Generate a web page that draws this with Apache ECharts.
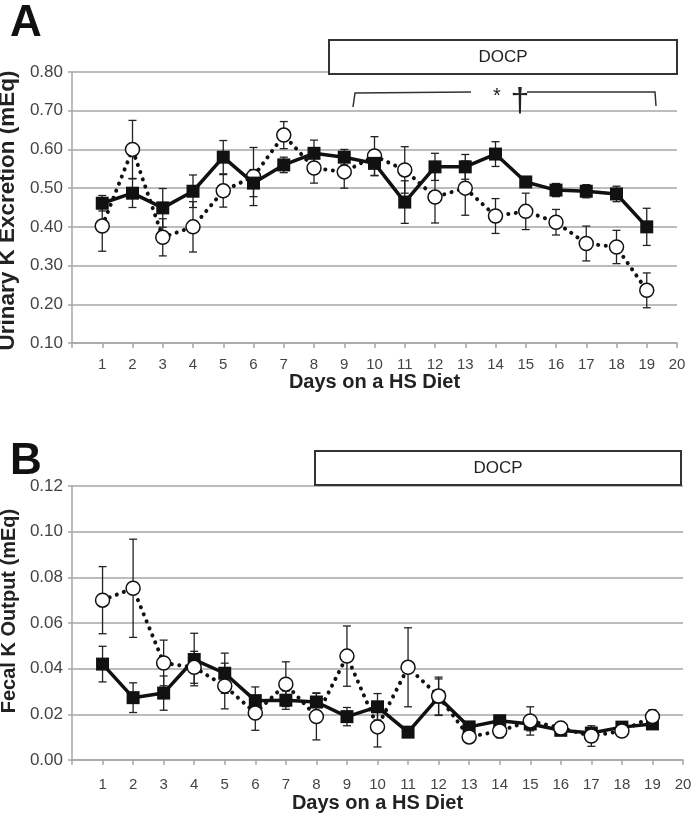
<!DOCTYPE html>
<html>
<head>
<meta charset="utf-8">
<script src="https://cdn.jsdelivr.net/npm/echarts@6/dist/echarts.min.js"></script>
<style>
html,body{margin:0;padding:0;background:#fff;}
#chart{width:692px;height:825px;}
</style>
</head>
<body>
<div id="chart"></div>
<script>
// ---- Data ----
var days = [1,2,3,4,5,6,7,8,9,10,11,12,13,14,15,16,17,18,19];
var xTickLabels = ['1','2','3','4','5','6','7','8','9','10','11','12','13','14','15','16','17','18','19','20'];

// Panel A: urinary K excretion (mEq)
var urinarySquare = [0.461,0.487,0.449,0.492,0.580,0.513,0.560,0.590,0.580,0.564,0.464,0.555,0.555,0.588,0.516,0.495,0.492,0.485,0.400];
var urinarySquareErr = [0.020,0.037,0.050,0.042,0.043,0.035,0.020,0.034,0.020,0.032,0.055,0.035,0.032,0.032,0.012,0.017,0.017,0.020,0.048];
var urinaryCircle = [0.402,0.600,0.373,0.400,0.493,0.530,0.637,0.552,0.542,0.583,0.547,0.477,0.500,0.428,0.440,0.412,0.357,0.348,0.236];
var urinaryCircleErr = [0.065,0.075,0.048,0.065,0.042,0.075,0.035,0.039,0.042,0.050,0.060,0.067,0.070,0.045,0.047,0.033,0.045,0.043,0.045];

// Panel B: fecal K output (mEq)
var fecalSquare = [0.042,0.0273,0.0293,0.044,0.038,0.026,0.0262,0.0254,0.019,0.0233,0.0122,0.0275,0.0145,0.0172,0.0158,0.013,0.0118,0.0144,0.0158];
var fecalSquareErr = [0.0078,0.0065,0.0075,0.0115,0.0088,0.006,0.004,0.004,0.004,0.0058,0.001,0.008,0.002,0.002,0.003,0.002,0.002,0.002,0.002];
var fecalCircle = [0.070,0.0752,0.0425,0.0406,0.0324,0.0206,0.0332,0.019,0.0455,0.0145,0.0406,0.028,0.0101,0.0127,0.0171,0.014,0.0105,0.0127,0.019];
var fecalCircleErr = [0.0147,0.0215,0.010,0.007,0.010,0.0076,0.0098,0.0102,0.0132,0.0088,0.0173,0.0083,0.002,0.003,0.0062,0.002,0.0045,0.002,0.003];

var yTitleA = 'Urinary K Excretion (mEq)';
var yTitleB = 'Fecal K Output (mEq)';
var xTitle = 'Days on a HS Diet';

// ---- Build ----
function pairs(vals){ return days.map(function(d,i){ return [d, vals[i]]; }); }
function errData(vals, errs){ return days.map(function(d,i){ return [d, vals[i]-errs[i], vals[i]+errs[i]]; }); }

function errRender(params, api){
  var x = api.value(0);
  var lo = api.coord([x, api.value(1)]);
  var hi = api.coord([x, api.value(2)]);
  var cw = 4;
  var st = {stroke:'#222', lineWidth:1.3};
  return {type:'group', children:[
    {type:'line', shape:{x1:lo[0],y1:lo[1],x2:hi[0],y2:hi[1]}, style:st},
    {type:'line', shape:{x1:lo[0]-cw,y1:lo[1],x2:lo[0]+cw,y2:lo[1]}, style:st},
    {type:'line', shape:{x1:hi[0]-cw,y1:hi[1],x2:hi[0]+cw,y2:hi[1]}, style:st}
  ]};
}

var font = 'Liberation Sans, Arial, sans-serif';
var gridColor = '#a6a6a6';

function xAxisDef(gi, labelMargin, nameGap){
  return {
    type:'value', gridIndex:gi, min:0, max:20, interval:1,
    name:xTitle, nameLocation:'middle', nameGap:nameGap,
    nameTextStyle:{fontFamily:font, fontSize:20, fontWeight:'bold', color:'#222'},
    axisLine:{show:true, lineStyle:{color:gridColor, width:1.5}},
    axisTick:{show:true, length:5, lineStyle:{color:gridColor, width:1.5}},
    axisLabel:{fontFamily:font, fontSize:15, color:'#444', margin:labelMargin,
      formatter:function(v){ return v>=1 ? xTickLabels[v-1] : ''; }},
    splitLine:{show:false}
  };
}
function yAxisDef(gi, min, max, interval, title, nameSize, nameGap, namePad){
  return {
    type:'value', gridIndex:gi, min:min, max:max, interval:interval,
    name:title, nameLocation:'middle', nameGap:nameGap,
    nameTextStyle:{fontFamily:font, fontSize:nameSize, fontWeight:'bold', color:'#222', padding:namePad},
    axisLine:{show:true, lineStyle:{color:gridColor, width:1.5}},
    axisTick:{show:true, length:4, lineStyle:{color:gridColor, width:1.5}},
    axisLabel:{fontFamily:font, fontSize:17, color:'#444', margin:9,
      formatter:function(v){ return v.toFixed(2); }},
    splitLine:{show:true, lineStyle:{color:gridColor, width:1.5}}
  };
}

function squareSeries(gi, vals, z){
  return {type:'line', xAxisIndex:gi, yAxisIndex:gi, data:pairs(vals), z:z,
    symbol:'rect', symbolSize:13, itemStyle:{color:'#111'},
    lineStyle:{color:'#111', width:3.5}, animation:false};
}
function circleSeries(gi, vals, z){
  return {type:'line', xAxisIndex:gi, yAxisIndex:gi, data:pairs(vals), z:z,
    symbol:'circle', symbolSize:14, showAllSymbol:true,
    itemStyle:{color:'#fff', borderColor:'#111', borderWidth:1.5},
    lineStyle:{color:'#111', width:4, type:[0.1,7.5], cap:'round'}, animation:false};
}
function errSeries(gi, vals, errs){
  return {type:'custom', xAxisIndex:gi, yAxisIndex:gi, data:errData(vals, errs), z:1,
    renderItem:errRender, animation:false, silent:true};
}

var chart = echarts.init(document.getElementById('chart'), null, {renderer:'canvas'});
var option = {
  backgroundColor:'#fff',
  animation:false,
  grid:[
    {left:72, top:72, right:15, height:271, containLabel:false, outerBoundsMode:'none'},
    {left:72, top:486, right:9, height:274, containLabel:false, outerBoundsMode:'none'}
  ],
  xAxis:[xAxisDef(0, 14, 28), xAxisDef(1, 17, 33)],
  yAxis:[
    yAxisDef(0,0.1,0.8,0.1,yTitleA,22.5,50,[0,6,0,0]),
    yAxisDef(1,0,0.12,0.02,yTitleB,20,47,[0,0,0,24])
  ],
  series:[
    errSeries(0, urinarySquare, urinarySquareErr),
    errSeries(0, urinaryCircle, urinaryCircleErr),
    circleSeries(0, urinaryCircle, 3),
    squareSeries(0, urinarySquare, 4),
    errSeries(1, fecalSquare, fecalSquareErr),
    errSeries(1, fecalCircle, fecalCircleErr),
    squareSeries(1, fecalSquare, 3),
    circleSeries(1, fecalCircle, 4)
  ],
  graphic:[
    {type:'text', left:10, top:2, style:{text:'A', fontFamily:font, fontSize:44, fontWeight:'bold', fill:'#111'}},
    {type:'text', left:10, top:440, style:{text:'B', fontFamily:font, fontSize:44, fontWeight:'bold', fill:'#111'}},
    {type:'rect', shape:{x:329, y:40, width:348, height:34}, style:{fill:'#fff', stroke:'#333', lineWidth:2}, z:10},
    {type:'text', x:503, y:57, style:{text:'DOCP', fontFamily:font, fontSize:17, fill:'#222', align:'center', verticalAlign:'middle'}, z:11},
    {type:'rect', shape:{x:315, y:451, width:366, height:34}, style:{fill:'#fff', stroke:'#333', lineWidth:2}, z:10},
    {type:'text', x:498, y:468, style:{text:'DOCP', fontFamily:font, fontSize:17, fill:'#222', align:'center', verticalAlign:'middle'}, z:11},
    {type:'polyline', shape:{points:[[353,107],[355,93],[471,92]]}, style:{stroke:'#333', lineWidth:1.5, fill:null}, z:10},
    {type:'polyline', shape:{points:[[527,92],[655,92],[656,106]]}, style:{stroke:'#333', lineWidth:1.5, fill:null}, z:10},
    {type:'text', x:497, y:96, style:{text:'*', fontFamily:font, fontSize:20, fill:'#222', align:'center', verticalAlign:'middle'}, z:11},
    {type:'text', x:520, y:102, style:{text:'†', fontFamily:font, fontSize:34, fill:'#222', align:'center', verticalAlign:'middle'}, z:11}
  ]
};
chart.setOption(option);
</script>
</body>
</html>
